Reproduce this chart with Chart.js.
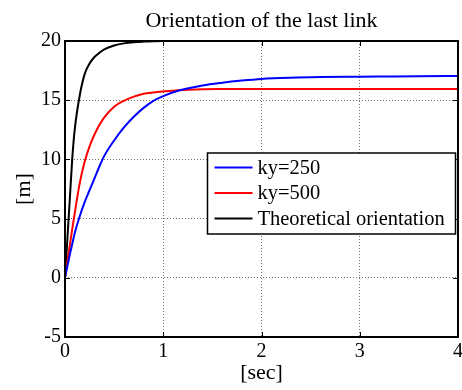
<!DOCTYPE html>
<html>
<head>
<meta charset="utf-8">
<script src="https://cdn.jsdelivr.net/npm/chart.js@4/dist/chart.umd.min.js"></script>
<style>
  html, body { margin: 0; padding: 0; background: #fff; }
  #wrap { width: 462px; height: 390px; position: relative; }
</style>
</head>
<body>
<div id="wrap"><canvas id="c" width="462" height="390"></canvas></div>
<script>
// Text
const chartTitle = 'Orientation of the last link';
const xLabel = '[sec]';
const yLabel = '[m]';
const seriesNames = ['ky=250', 'ky=500', 'Theoretical orientation'];
const seriesColors = ['#0000ff', '#ff0000', '#000000'];

// Tick values
const xTicks = [0, 1, 2, 3, 4];
const yTicks = [-5, 0, 5, 10, 15, 20];

// Sample times (s)
const timeSec = [0, 0.025, 0.05, 0.075, 0.1, 0.15, 0.2, 0.25, 0.3, 0.35, 0.4, 0.5, 0.6, 0.7,
                 0.8, 0.9, 1.0, 1.15, 1.4, 1.6, 1.8, 2.0, 2.3, 2.6, 3.0, 3.3, 3.6, 4.0];

// Responses
const ky250 = [0, 1.0, 2.0, 2.9, 3.8, 5.2, 6.4, 7.4, 8.4, 9.4, 10.3, 11.6, 12.7, 13.6,
               14.35, 14.95, 15.35, 15.8, 16.25, 16.48, 16.66, 16.8, 16.9, 16.95, 16.98, 17.0, 17.02, 17.05];
const ky500 = [0, 1.4, 2.8, 4.2, 5.5, 8.0, 9.8, 11.1, 12.1, 12.9, 13.55, 14.45, 14.95, 15.3,
               15.55, 15.66, 15.74, 15.84, 15.92, 15.94, 15.95, 15.95, 15.95, 15.95, 15.95, 15.95, 15.95, 15.95];
const theoretical = [0, 3.4, 6.8, 10.2, 12.6, 15.4, 17.2, 18.1, 18.65, 19.0, 19.3, 19.62, 19.8, 19.9,
                     19.95, 19.98, 20.0, 20.0, null, null, null, null, null, null, null, null, null, null];

const FONT = "'Liberation Serif', 'Times New Roman', serif";

function toPoints(values) {
  const pts = [];
  values.forEach((v, i) => { if (v !== null) pts.push({ x: timeSec[i], y: v }); });
  return pts;
}

const frame = {
  id: 'frame',
  afterDraw(chart) {
    const { ctx, chartArea: a, scales: { x, y } } = chart;
    ctx.save();

    // inward tick marks on all four sides
    ctx.strokeStyle = '#000';
    ctx.lineWidth = 1;
    ctx.beginPath();
    xTicks.forEach(v => {
      const px = Math.round(x.getPixelForValue(v)) + 0.5;
      ctx.moveTo(px, a.bottom); ctx.lineTo(px, a.bottom - 5);
      ctx.moveTo(px, a.top); ctx.lineTo(px, a.top + 5);
    });
    yTicks.forEach(v => {
      const py = Math.round(y.getPixelForValue(v)) + 0.5;
      ctx.moveTo(a.left, py); ctx.lineTo(a.left + 5, py);
      ctx.moveTo(a.right, py); ctx.lineTo(a.right - 5, py);
    });
    ctx.stroke();

    // axes box
    ctx.lineWidth = 2;
    ctx.strokeRect(a.left, a.top, a.right - a.left, a.bottom - a.top);

    // title centred over the plot area
    ctx.fillStyle = '#000';
    ctx.font = '22px ' + FONT;
    ctx.textAlign = 'center';
    ctx.textBaseline = 'alphabetic';
    ctx.fillText(chartTitle, (a.left + a.right) / 2, 27);

    // legend box
    const bw = 248, bh = 81;
    const bx = a.right - bw - 2.5, by = a.top + 112;
    ctx.fillStyle = '#fff';
    ctx.fillRect(bx, by, bw, bh);
    ctx.lineWidth = 1.5;
    ctx.strokeStyle = '#000';
    ctx.strokeRect(bx, by, bw, bh);
    ctx.font = '20.5px ' + FONT;
    ctx.textAlign = 'left';
    ctx.textBaseline = 'middle';
    chart.data.datasets.forEach((ds, i) => {
      const cy = by + 14.5 + i * 25.5;
      ctx.strokeStyle = ds.borderColor;
      ctx.lineWidth = 2;
      ctx.beginPath();
      ctx.moveTo(bx + 7, cy); ctx.lineTo(bx + 45, cy);
      ctx.stroke();
      ctx.fillStyle = '#000';
      ctx.fillText(ds.label, bx + 50, cy + 1);
    });
    ctx.restore();
  }
};

const gridOpts = { color: 'rgba(0,0,0,0.55)', lineWidth: 1, drawTicks: false };
const borderOpts = { display: false, dash: [1, 2] };

new Chart(document.getElementById('c'), {
  type: 'line',
  data: {
    datasets: [ky250, ky500, theoretical].map((vals, i) => ({
      label: seriesNames[i],
      data: toPoints(vals),
      borderColor: seriesColors[i],
      borderWidth: 2,
      pointRadius: 0,
      fill: false,
      cubicInterpolationMode: 'monotone'
    }))
  },
  options: {
    responsive: false,
    animation: false,
    devicePixelRatio: 1,
    layout: { padding: { top: 41, right: 4, left: 0, bottom: 0 } },
    plugins: { legend: { display: false }, title: { display: false }, tooltip: { enabled: false } },
    scales: {
      x: {
        type: 'linear', min: 0, max: 4,
        afterBuildTicks: s => { s.ticks = xTicks.map(v => ({ value: v })); },
        afterFit: s => { s.height = 53; s.paddingLeft = 0; s.paddingRight = 0; },
        grid: gridOpts, border: borderOpts,
        ticks: { font: { family: FONT, size: 20 }, color: '#000', padding: 3, maxRotation: 0, autoSkip: false },
        title: { display: true, text: xLabel, color: '#000', font: { family: FONT, size: 22 }, padding: { top: 0, bottom: 4 } }
      },
      y: {
        type: 'linear', min: -5, max: 20,
        afterBuildTicks: s => { s.ticks = yTicks.map(v => ({ value: v })); },
        afterFit: s => { s.width = 65; },
        grid: gridOpts, border: borderOpts,
        ticks: { font: { family: FONT, size: 20 }, color: '#000', padding: 4, autoSkip: false },
        title: { display: true, text: yLabel, color: '#000', font: { family: FONT, size: 22 }, padding: { top: 11, bottom: 0 } }
      }
    }
  },
  plugins: [frame]
});
</script>
</body>
</html>
